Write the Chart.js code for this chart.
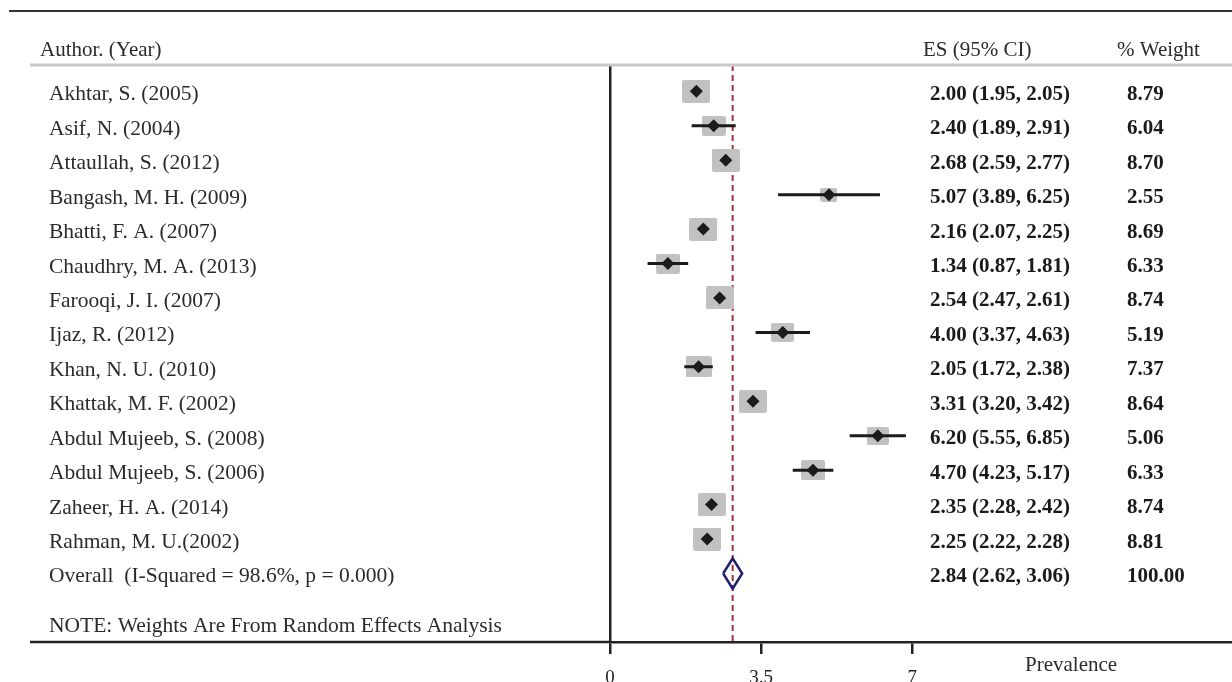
<!DOCTYPE html>
<html>
<head>
<meta charset="utf-8">
<title>Prevalence forest plot</title>
<script src="https://cdn.jsdelivr.net/npm/chart.js@4.4.1/dist/chart.umd.min.js"></script>
<style>
  html, body { margin: 0; padding: 0; background: #fff; }
  #wrap { width: 1232px; height: 682px; }
</style>
</head>
<body>
<div id="wrap"><canvas id="forestChart" width="1232" height="682"></canvas></div>
<script>
// Studies, top to bottom
const authors = ['Akhtar, S. (2005)', 'Asif, N. (2004)', 'Attaullah, S. (2012)', 'Bangash, M. H. (2009)',
                 'Bhatti, F. A. (2007)', 'Chaudhry, M. A. (2013)', 'Farooqi, J. I. (2007)', 'Ijaz, R. (2012)',
                 'Khan, N. U. (2010)', 'Khattak, M. F. (2002)', 'Abdul Mujeeb, S. (2008)', 'Abdul Mujeeb, S. (2006)',
                 'Zaheer, H. A. (2014)', 'Rahman, M. U.(2002)'];
const es      = [2.00, 2.40, 2.68, 5.07, 2.16, 1.34, 2.54, 4.00, 2.05, 3.31, 6.20, 4.70, 2.35, 2.25];
const ciLow   = [1.95, 1.89, 2.59, 3.89, 2.07, 0.87, 2.47, 3.37, 1.72, 3.20, 5.55, 4.23, 2.28, 2.22];
const ciHigh  = [2.05, 2.91, 2.77, 6.25, 2.25, 1.81, 2.61, 4.63, 2.38, 3.42, 6.85, 5.17, 2.42, 2.28];
const weights = [8.79, 6.04, 8.70, 2.55, 8.69, 6.33, 8.74, 5.19, 7.37, 8.64, 5.06, 6.33, 8.74, 8.81];

// Pooled estimate
const overallLabel = 'Overall  (I-Squared = 98.6%, p = 0.000)';
const overallEs = 2.84;
const overallLow = 2.62;
const overallHigh = 3.06;
const overallWeight = 100.00;

const xTicks = [0, 3.5, 7];
const noteText = 'NOTE: Weights Are From Random Effects Analysis';

const serif = 'Liberation Serif';
const overallRow = authors.length;
const noteRow = overallRow + 1.45;

// grey weight box, grows with the study weight
function makeBox(w) {
  const width = Math.round(5 + 7.7 * Math.sqrt(w));
  const height = Math.round(width * 0.82);
  const c = document.createElement('canvas');
  c.width = width;
  c.height = height;
  const g = c.getContext('2d');
  g.fillStyle = '#c1c1c1';
  g.beginPath();
  g.roundRect(0, 0, width, height, 2);
  g.fill();
  return c;
}
const boxes = weights.map(makeBox);

const yMin = -0.764;
const yMax = 15.99;

// ci segments, separated by gaps
const ciData = [];
es.forEach((v, i) => {
  ciData.push({ x: ciLow[i], y: i }, { x: ciHigh[i], y: i }, { x: ciHigh[i], y: null });
});

const diamondHalf = 0.44;
const overallDiamond = [
  { x: overallLow, y: overallRow },
  { x: overallEs, y: overallRow - diamondHalf },
  { x: overallHigh, y: overallRow },
  { x: overallEs, y: overallRow + diamondHalf },
  { x: overallLow, y: overallRow }
];

// text columns and frame lines
const tablePlugin = {
  id: 'forestTable',
  afterDraw(chart) {
    const ctx = chart.ctx;
    const y = chart.scales.y;
    ctx.save();

    ctx.lineCap = 'butt';
    ctx.strokeStyle = '#333';
    ctx.lineWidth = 2;
    ctx.beginPath(); ctx.moveTo(9, 11); ctx.lineTo(1232, 11); ctx.stroke();

    ctx.strokeStyle = '#c8c8c8';
    ctx.lineWidth = 3;
    ctx.beginPath(); ctx.moveTo(30, 65); ctx.lineTo(1232, 65); ctx.stroke();

    ctx.strokeStyle = '#222';
    ctx.lineWidth = 2.5;
    const axisY = chart.chartArea.bottom;
    ctx.beginPath(); ctx.moveTo(30, axisY); ctx.lineTo(chart.chartArea.left, axisY); ctx.stroke();

    ctx.textBaseline = 'alphabetic';
    ctx.textAlign = 'left';
    ctx.fillStyle = '#2b2b2b';
    ctx.font = '21px "' + serif + '"';
    ctx.fillText('Author. (Year)', 40, 56);
    ctx.fillText('ES (95% CI)', 923, 56);
    ctx.fillText('% Weight', 1117, 56);
    ctx.fillText('Prevalence', 1025, 671);

    ctx.font = '21.5px "' + serif + '"';
    authors.forEach((a, i) => ctx.fillText(a, 49, y.getPixelForValue(i) + 9));
    ctx.fillText(overallLabel, 49, y.getPixelForValue(overallRow) + 9);
    ctx.fillText(noteText, 49, y.getPixelForValue(noteRow) + 9);

    ctx.fillStyle = '#1a1a1a';
    ctx.font = 'bold 21px "' + serif + '"';
    es.forEach((v, i) => {
      const py = y.getPixelForValue(i) + 8.5;
      ctx.fillText(v.toFixed(2) + ' (' + ciLow[i].toFixed(2) + ', ' + ciHigh[i].toFixed(2) + ')', 930, py);
      ctx.fillText(weights[i].toFixed(2), 1127, py);
    });
    const oy = y.getPixelForValue(overallRow) + 8.5;
    ctx.fillText(overallEs.toFixed(2) + ' (' + overallLow.toFixed(2) + ', ' + overallHigh.toFixed(2) + ')', 930, oy);
    ctx.fillText(overallWeight.toFixed(2), 1127, oy);

    ctx.restore();
  }
};

const chartCtx = document.getElementById('forestChart').getContext('2d');
window.forestChart = new Chart(chartCtx, {
  type: 'scatter',
  data: {
    datasets: [
      {
        label: 'Overall',
        data: overallDiamond,
        showLine: true,
        borderColor: '#1e1e70',
        borderWidth: 2.5,
        pointRadius: 0,
        fill: false,
        order: 0
      },
      {
        label: 'ES',
        data: es.map((v, i) => ({ x: v, y: i })),
        pointStyle: 'rectRot',
        pointRadius: 6.5,
        backgroundColor: '#1b1b1b',
        borderColor: '#1b1b1b',
        borderWidth: 0,
        order: 1
      },
      {
        label: '95% CI',
        data: ciData,
        showLine: true,
        spanGaps: false,
        borderColor: '#1b1b1b',
        borderWidth: 3,
        pointRadius: 0,
        order: 2
      },
      {
        label: 'Weight',
        data: es.map((v, i) => ({ x: v, y: i })),
        pointStyle: ctx => boxes[ctx.dataIndex],
        pointRadius: 10,
        order: 3
      },
      {
        label: 'Pooled line',
        data: [{ x: overallEs, y: yMin }, { x: overallEs, y: yMax }],
        showLine: true,
        borderColor: '#a3343f',
        borderWidth: 2,
        borderDash: [6, 4],
        pointRadius: 0,
        order: 4
      }
    ]
  },
  options: {
    responsive: false,
    animation: false,
    layout: { autoPadding: false, padding: { left: 610, top: 65, right: 0, bottom: 0 } },
    plugins: {
      legend: { display: false },
      tooltip: { enabled: false }
    },
    scales: {
      x: {
        type: 'linear',
        min: 0,
        max: 14.4,
        afterBuildTicks: s => { s.ticks = xTicks.map(v => ({ value: v })); },
        afterFit: s => { s.height = 40; },
        grid: { drawOnChartArea: false, drawTicks: true, tickLength: 12, color: '#222', lineWidth: 2.5 },
        border: { display: true, color: '#222', width: 2.5 },
        ticks: {
          padding: 13,
          color: '#222',
          maxRotation: 0,
          font: { family: serif, size: 19 },
          callback: v => String(v)
        }
      },
      y: {
        type: 'linear',
        reverse: true,
        min: yMin,
        max: yMax,
        afterFit: s => { s.width = 0; },
        ticks: { display: false },
        grid: { display: false },
        border: { display: true, color: '#222', width: 2.5 }
      }
    }
  },
  plugins: [tablePlugin]
});
</script>
</body>
</html>
